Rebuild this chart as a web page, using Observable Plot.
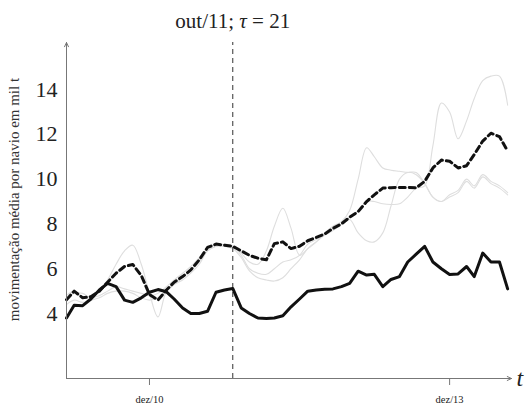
<!DOCTYPE html>
<html>
<head>
<meta charset="utf-8">
<script src="https://cdn.jsdelivr.net/npm/d3@7"></script>
<script src="https://cdn.jsdelivr.net/npm/@observablehq/plot@0.6"></script>
<style>
  html, body { margin: 0; padding: 0; background: #fff; }
  #chart svg { display: block; }
</style>
</head>
<body>
<div id="chart"></div>
<script>
// ---- data (monthly, fev/2010 .. jul/2014) ----
const startMonth = [2010, 1];           // fev/10 (year, zero-based month)
const monthCount = 54;
const titleText = "out/11; τ = 21";
const cutMonth = [2011, 9];             // out/11
const yLabel = "movimentação média por navio em mil t";
const xTickMonths = [[2010, 11], [2013, 11]];
const xTickLabels = ["dez/10", "dez/13"];
const yTicks = [4, 6, 8, 10, 12, 14];
const yDomain = [1.1, 16.1];

const observed = [3.8,4.37,4.35,4.65,5.05,5.35,5.2,4.6,4.5,4.7,
  4.95,5.07,4.97,4.65,4.25,4.0,4.0,4.1,4.95,5.05,
  5.12,4.25,4.0,3.8,3.78,3.8,3.9,4.3,4.65,5.0,
  5.05,5.08,5.1,5.2,5.35,5.89,5.72,5.75,5.2,5.52,
  5.65,6.3,6.65,7.0,6.3,6.0,5.74,5.77,6.1,5.65,
  6.7,6.3,6.3,5.1];

const forecast = [4.62,5.0,4.7,4.75,5.0,5.4,5.8,6.1,6.19,5.7,
  4.85,4.6,5.05,5.4,5.65,5.95,6.4,6.95,7.1,7.05,
  7.0,6.8,6.6,6.47,6.4,7.12,7.2,6.9,7.0,7.25,
  7.4,7.55,7.8,8.0,8.3,8.55,9.0,9.3,9.6,9.62,
  9.63,9.63,9.61,9.9,10.5,10.85,10.8,10.5,10.6,11.1,
  11.7,12.05,11.9,11.25];

const gray1 = [4.8,5.0,4.7,4.8,5.0,5.5,6.2,6.8,7.05,6.2,
  4.9,3.85,5.0,5.3,5.5,5.8,6.2,6.8,7.0,7.1,
  7.0,6.7,6.3,6.2,6.8,7.9,8.7,7.8,6.6,6.9,
  7.2,7.6,7.9,8.1,8.6,10.0,11.4,11.0,10.5,10.4,
  10.35,10.3,10.3,9.8,9.2,9.0,9.2,9.4,9.9,9.6,
  10.1,9.8,9.6,9.3];

const gray2 = [4.6,4.9,4.9,4.7,4.8,5.0,5.2,5.1,5.0,4.9,
  4.8,4.9,5.2,5.5,5.8,6.1,6.5,6.9,7.1,7.05,
  7.0,6.6,6.0,5.8,5.75,6.0,6.3,6.4,6.6,7.1,
  7.3,7.5,7.7,8.0,8.3,8.6,9.0,9.0,8.9,8.87,
  8.9,9.2,9.6,9.7,11.5,13.4,13.0,11.8,12.6,13.6,
  14.4,14.6,14.6,13.3];

const gray3 = [4.4,4.6,4.5,4.6,4.7,4.9,5.0,5.0,4.9,4.7,
  4.6,4.7,5.0,5.3,5.6,5.9,6.3,6.8,7.0,7.0,
  6.9,6.5,5.9,5.6,5.5,5.45,5.6,6.0,6.4,6.9,
  7.2,7.5,7.8,8.0,8.2,7.6,7.25,7.2,7.6,8.8,
  10.0,10.3,10.2,9.8,9.2,9.0,9.3,9.5,10.0,9.7,
  10.2,9.9,9.7,9.4];

// ---- build ----
const ut = (ym) => new Date(Date.UTC(ym[0], ym[1], 1));
const t0 = ut(startMonth);
const months = d3.range(monthCount).map(i => d3.utcMonth.offset(t0, i));
const toRows = (vals) => vals.map((v, i) => ({date: months[i], value: v}));
const xEnd = d3.utcDay.offset(months[monthCount - 1], 14);
const cut = ut(cutMonth);
const xTicks = xTickMonths.map(ut);
const serif = "'Liberation Serif', 'DejaVu Serif', 'Times New Roman', serif";

const grayStyle = {x: "date", y: "value", stroke: "#dedede", strokeWidth: 1.1, curve: "catmull-rom"};

const chart = Plot.plot({
  width: 526,
  height: 408,
  marginLeft: 66,
  marginRight: 15,
  marginTop: 42,
  marginBottom: 30,
  style: {fontFamily: serif, background: "#fff", color: "#222"},
  x: {type: "utc", domain: [t0, xEnd]},
  y: {domain: yDomain},
  marks: [
    Plot.lineY(toRows(gray1), grayStyle),
    Plot.lineY(toRows(gray2), grayStyle),
    Plot.lineY(toRows(gray3), grayStyle),
    Plot.ruleX([cut], {y1: yDomain[0], y2: yDomain[1], stroke: "#555", strokeWidth: 1.2, strokeDasharray: "5,4"}),
    Plot.lineY(toRows(forecast), {x: "date", y: "value", stroke: "#111", strokeWidth: 3, strokeDasharray: "6,4"}),
    Plot.lineY(toRows(observed), {x: "date", y: "value", stroke: "#111", strokeWidth: 3, strokeLinejoin: "round"}),
    // axis lines with arrow heads
    Plot.arrow([{x1: t0, y1: yDomain[0], x2: t0, y2: yDomain[1]}],
      {x1: "x1", y1: "y1", x2: "x2", y2: "y2", stroke: "#777", strokeWidth: 1, headLength: 7, headAngle: 50}),
    Plot.arrow([{x1: t0, y1: yDomain[0], x2: xEnd, y2: yDomain[0]}],
      {x1: "x1", y1: "y1", x2: "x2", y2: "y2", stroke: "#777", strokeWidth: 1, headLength: 7, headAngle: 50}),
    Plot.axisY({ticks: yTicks, tickSize: 0, tickPadding: 9, fontSize: 22, label: null}),
    Plot.text([yLabel], {frameAnchor: "left", text: d => d, rotate: -90, fontSize: 15, fill: "#333"}),
    Plot.axisX({ticks: xTicks, tickFormat: (d, i) => xTickLabels[i], tickSize: 7, tickPadding: 10, fontSize: 10.5, stroke: "#777", label: null}),
    Plot.text([{x: xEnd, y: yDomain[0], t: "t"}], {x: "x", y: "y", text: "t", dx: 5, textAnchor: "start", fontSize: 24, fontStyle: "italic"}),
    Plot.text([{x: cut, y: yDomain[1], t: titleText}], {x: "x", y: "y", text: "t", dy: -21, fontSize: 21})
  ]
});

const svg = d3.select(chart);
// italic tau in the title
svg.selectAll("text").filter(function() { return this.textContent === titleText; })
  .each(function() {
    const el = d3.select(this);
    const parts = titleText.split("τ");
    el.text(null);
    el.append("tspan").text(parts[0]);
    el.append("tspan").attr("font-style", "italic").text("τ");
    el.append("tspan").text(parts[1]);
  });
// place the rotated y label left of the tick labels
svg.selectAll("text").filter(function() { return this.textContent === yLabel; })
  .attr("x", null).attr("y", null).attr("dx", null).attr("dy", null)
  .attr("text-anchor", "middle")
  .attr("transform", "translate(18, 199) rotate(-90)");

document.getElementById("chart").appendChild(chart);
</script>
</body>
</html>
